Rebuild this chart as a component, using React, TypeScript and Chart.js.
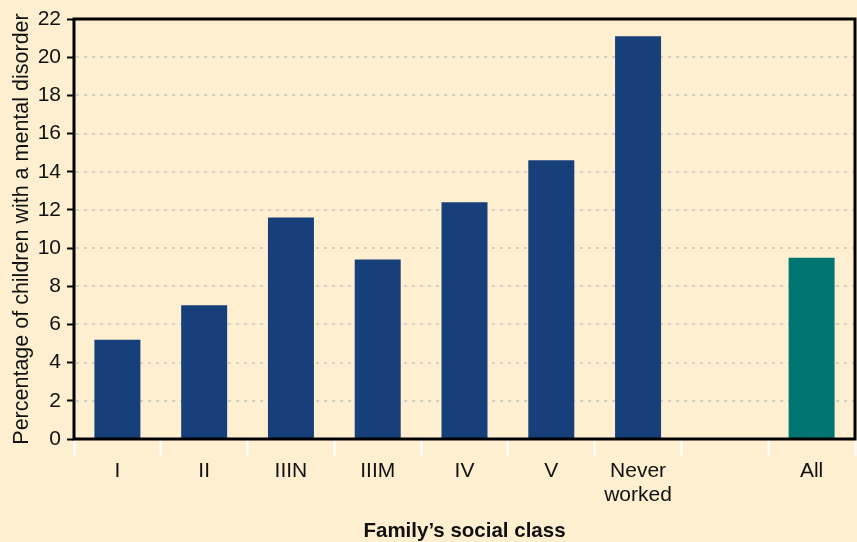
import React, { useEffect, useRef } from "react";
import { Chart, registerables } from "chart.js";

Chart.register(...registerables);

const categories: (string | string[])[] = ["I", "II", "IIIN", "IIIM", "IV", "V", ["Never", "worked"], "", "All"];
const percentages: (number | null)[] = [5.2, 7.0, 11.6, 9.4, 12.4, 14.6, 21.1, null, 9.5];
const barColors: string[] = ["#17407a", "#17407a", "#17407a", "#17407a", "#17407a", "#17407a", "#17407a", "#17407a", "#007572"];
const yTicks: number[] = [0, 2, 4, 6, 8, 10, 12, 14, 16, 18, 20, 22];

const BG = "#fdefcf";
const FONT = "'Liberation Sans', Arial, Helvetica, sans-serif";
const TEXT = "#111111";

const framePlugin = {
  id: "framePlugin",
  beforeDraw(chart: any) {
    const { ctx, width, height } = chart;
    ctx.save();
    ctx.fillStyle = BG;
    ctx.fillRect(0, 0, width, height);
    ctx.restore();
  },
  beforeDatasetsDraw(chart: any) {
    const { ctx, chartArea } = chart;
    const y = chart.scales.y;
    ctx.save();
    ctx.strokeStyle = "#d2cfc6";
    ctx.lineWidth = 2;
    ctx.setLineDash([3, 5]);
    yTicks.forEach((v) => {
      if (v === 0 || v === 22) return;
      const py = Math.round(y.getPixelForValue(v));
      ctx.beginPath();
      ctx.moveTo(chartArea.left + 2, py);
      ctx.lineTo(chartArea.right, py);
      ctx.stroke();
    });
    ctx.restore();
  },
  afterDraw(chart: any) {
    const { ctx, chartArea } = chart;
    ctx.save();
    ctx.strokeStyle = "#000";
    ctx.lineWidth = 3;
    ctx.strokeRect(chartArea.left, chartArea.top, chartArea.right - chartArea.left, chartArea.bottom - chartArea.top);
    ctx.restore();
  },
};

export default function App() {
  const ref = useRef<HTMLCanvasElement | null>(null);
  useEffect(() => {
    document.body.style.margin = "0";
    document.body.style.background = BG;
    if (!ref.current) return;
    const chart = new Chart(ref.current, {
      type: "bar",
      data: {
        labels: categories,
        datasets: [
          {
            data: percentages,
            backgroundColor: barColors,
            borderWidth: 0,
            barPercentage: 0.53,
            categoryPercentage: 1,
          },
        ],
      },
      options: {
        responsive: false,
        animation: false,
        devicePixelRatio: 1,
        layout: { padding: { top: 19, right: 2, left: 0, bottom: 0 } },
        plugins: { legend: { display: false }, tooltip: { enabled: false } },
        scales: {
          x: {
            offset: true,
            afterFit: (s: any) => {
              s.height = 103;
            },
            border: { display: false },
            grid: {
              offset: true,
              drawOnChartArea: false,
              drawTicks: true,
              tickLength: 17,
              tickColor: "#ffffff",
              tickWidth: 2,
              color: "#ffffff",
            },
            ticks: {
              color: TEXT,
              padding: 3,
              maxRotation: 0,
              autoSkip: false,
              font: { family: FONT, size: 21, lineHeight: 1.15 },
            },
            title: {
              display: true,
              text: "Family’s social class",
              color: TEXT,
              font: { family: FONT, size: 20.5, weight: "bold", lineHeight: 1.05 },
              padding: { top: 0, bottom: 0 },
            },
          },
          y: {
            min: 0,
            max: 22,
            afterFit: (s: any) => {
              s.width = 74;
            },
            afterBuildTicks: (s: any) => {
              s.ticks = yTicks.map((v) => ({ value: v }));
            },
            border: { display: false },
            grid: {
              drawOnChartArea: false,
              drawTicks: true,
              tickLength: 7,
              tickColor: "#000000",
              tickWidth: 2,
            },
            ticks: {
              color: TEXT,
              padding: 6,
              font: { family: FONT, size: 21 },
            },
            title: {
              display: true,
              text: "Percentage of children with a mental disorder",
              color: TEXT,
              font: { family: FONT, size: 21.5, lineHeight: 1.2 },
              padding: { top: 9, bottom: 0 },
            },
          },
        },
      },
      plugins: [framePlugin],
    });
    return () => chart.destroy();
  }, []);
  return (
    <div style={{ width: 857, height: 542, background: BG }}>
      <canvas ref={ref} width={857} height={542} style={{ display: "block" }} />
    </div>
  );
}
